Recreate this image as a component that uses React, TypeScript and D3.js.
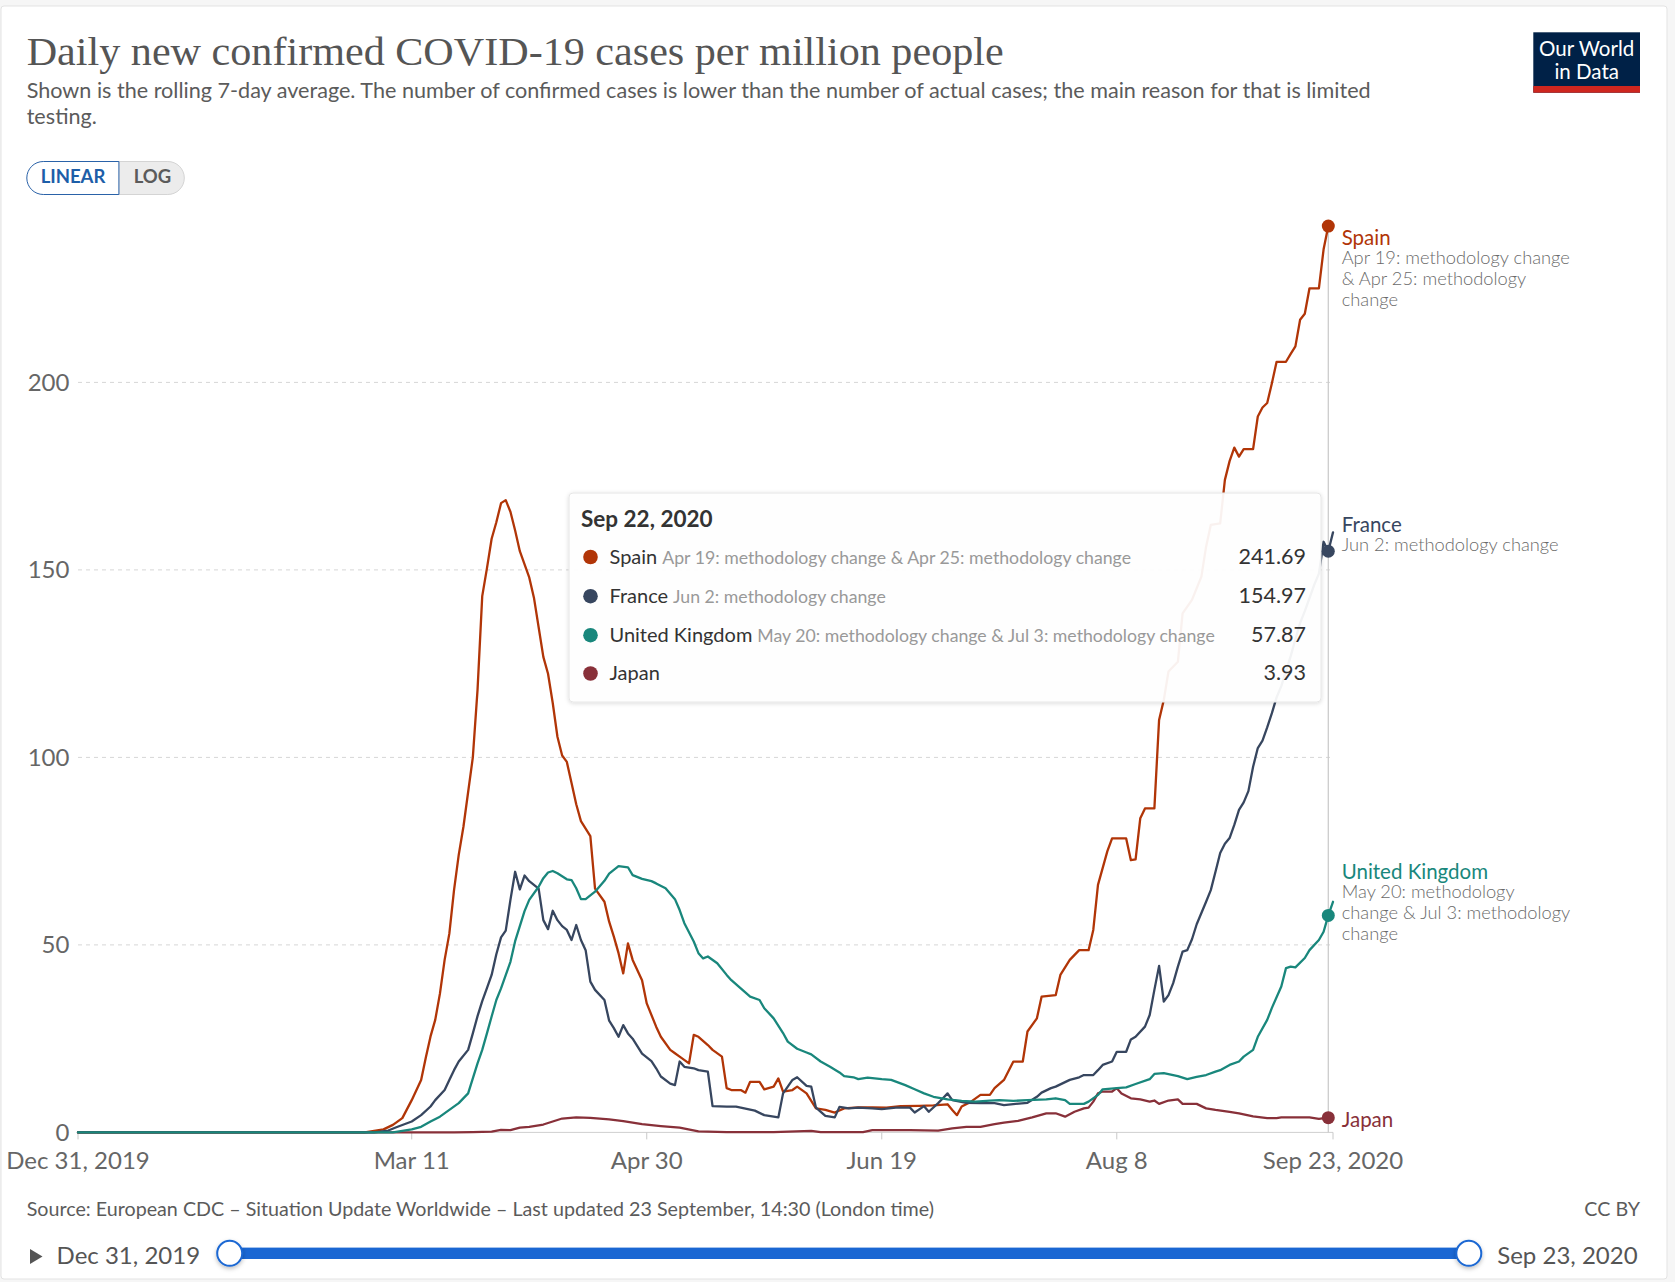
import React from "react";
import * as d3 from "d3";

// ---------- DATA ----------
const START_DATE = "2019-12-31";
const END_DATE = "2020-09-23";
const HOVER_DATE = "2020-09-22";

const spain: [string, number][] = [
  ["2019-12-31", 0], ["2020-03-01", 0], ["2020-03-02", 0.2], ["2020-03-05", 0.8], ["2020-03-07", 2.0],
  ["2020-03-09", 3.8], ["2020-03-11", 8.6], ["2020-03-13", 14], ["2020-03-14", 20], ["2020-03-15", 25.6],
  ["2020-03-16", 30], ["2020-03-17", 37], ["2020-03-18", 46], ["2020-03-19", 53], ["2020-03-20", 64.6],
  ["2020-03-21", 74], ["2020-03-22", 81.5], ["2020-03-24", 100], ["2020-03-25", 118], ["2020-03-26", 143],
  ["2020-03-27", 150.4], ["2020-03-28", 158.3], ["2020-03-29", 162.7], ["2020-03-30", 167.8], ["2020-03-31", 168.6],
  ["2020-04-01", 165.5], ["2020-04-02", 160.5], ["2020-04-03", 155], ["2020-04-05", 148], ["2020-04-06", 142.6],
  ["2020-04-07", 134.7], ["2020-04-08", 126.8], ["2020-04-09", 122.3], ["2020-04-10", 114.5], ["2020-04-11", 105.5],
  ["2020-04-12", 100.5], ["2020-04-13", 98.8], ["2020-04-14", 93.2], ["2020-04-15", 87.5], ["2020-04-16", 83],
  ["2020-04-18", 79], ["2020-04-19", 65], ["2020-04-21", 61.5], ["2020-04-22", 56.2], ["2020-04-23", 52.2],
  ["2020-04-24", 47.8], ["2020-04-25", 42.4], ["2020-04-26", 50.4], ["2020-04-27", 46], ["2020-04-29", 40.6],
  ["2020-04-30", 34.4], ["2020-05-02", 28.2], ["2020-05-03", 25.5], ["2020-05-05", 22], ["2020-05-06", 21.1],
  ["2020-05-07", 20.2], ["2020-05-09", 18.4], ["2020-05-10", 26], ["2020-05-11", 25.5], ["2020-05-13", 23.3],
  ["2020-05-14", 22], ["2020-05-16", 20.2], ["2020-05-17", 11.8], ["2020-05-18", 11.3], ["2020-05-20", 11.3],
  ["2020-05-21", 10.6], ["2020-05-22", 13.5], ["2020-05-24", 13.5], ["2020-05-25", 11.5], ["2020-05-27", 12.2],
  ["2020-05-28", 14.4], ["2020-05-29", 10.9], ["2020-05-31", 11.3], ["2020-06-01", 12.2], ["2020-06-03", 10.4],
  ["2020-06-05", 6.4], ["2020-06-07", 6], ["2020-06-09", 5.3], ["2020-06-11", 6.4], ["2020-06-14", 6.7],
  ["2020-06-17", 6.7], ["2020-06-20", 6.6], ["2020-06-23", 7], ["2020-06-27", 7.1], ["2020-06-30", 7.2],
  ["2020-07-03", 7.5], ["2020-07-04", 6], ["2020-07-05", 4.6], ["2020-07-06", 6.9], ["2020-07-08", 8.2],
  ["2020-07-10", 10], ["2020-07-12", 10], ["2020-07-13", 11.8], ["2020-07-15", 14], ["2020-07-17", 18.9],
  ["2020-07-19", 18.9], ["2020-07-20", 26.9], ["2020-07-22", 30.4], ["2020-07-23", 36.2], ["2020-07-26", 36.6],
  ["2020-07-27", 42], ["2020-07-29", 46], ["2020-07-31", 48.6], ["2020-08-02", 48.6], ["2020-08-03", 54],
  ["2020-08-04", 66], ["2020-08-06", 75], ["2020-08-07", 78.4], ["2020-08-10", 78.4], ["2020-08-11", 72.6],
  ["2020-08-12", 72.8], ["2020-08-13", 83.8], ["2020-08-14", 86.4], ["2020-08-16", 86.4], ["2020-08-17", 110],
  ["2020-08-18", 115.3], ["2020-08-19", 122.9], ["2020-08-21", 125.5], ["2020-08-22", 138.4], ["2020-08-24", 142],
  ["2020-08-26", 148.2], ["2020-08-27", 156.2], ["2020-08-28", 162], ["2020-08-30", 162.4], ["2020-08-31", 174],
  ["2020-09-01", 179], ["2020-09-02", 182.6], ["2020-09-03", 180.2], ["2020-09-04", 182.2], ["2020-09-06", 182.2],
  ["2020-09-07", 190.9], ["2020-09-08", 193.3], ["2020-09-09", 194.5], ["2020-09-10", 199.8], ["2020-09-11", 205.5],
  ["2020-09-13", 205.5], ["2020-09-14", 207.6], ["2020-09-15", 209.6], ["2020-09-16", 216.7], ["2020-09-17", 218.3],
  ["2020-09-18", 225.1], ["2020-09-20", 225.1], ["2020-09-21", 235.5], ["2020-09-22", 241.69],
];

const france: [string, number][] = [
  ["2019-12-31", 0], ["2020-03-03", 0], ["2020-03-06", 0.5], ["2020-03-08", 1.5], ["2020-03-11", 2.9],
  ["2020-03-13", 4.6], ["2020-03-15", 6.9], ["2020-03-16", 8.6], ["2020-03-18", 11.3], ["2020-03-19", 14],
  ["2020-03-20", 16.6], ["2020-03-21", 18.9], ["2020-03-23", 22], ["2020-03-24", 26.4], ["2020-03-25", 31],
  ["2020-03-26", 35], ["2020-03-27", 38.5], ["2020-03-28", 42], ["2020-03-29", 47.5], ["2020-03-30", 52],
  ["2020-03-31", 53.8], ["2020-04-01", 62], ["2020-04-02", 69.5], ["2020-04-03", 64.8], ["2020-04-04", 68.5],
  ["2020-04-05", 67], ["2020-04-07", 65], ["2020-04-08", 56.6], ["2020-04-09", 54.2], ["2020-04-10", 59.1],
  ["2020-04-11", 56.6], ["2020-04-12", 55], ["2020-04-13", 54], ["2020-04-14", 51.3], ["2020-04-15", 55.3],
  ["2020-04-16", 51.3], ["2020-04-17", 48.6], ["2020-04-18", 40.2], ["2020-04-19", 38], ["2020-04-21", 35.3],
  ["2020-04-22", 29.8], ["2020-04-23", 27.8], ["2020-04-24", 25.5], ["2020-04-25", 28.6], ["2020-04-26", 26.4],
  ["2020-04-27", 25], ["2020-04-29", 21], ["2020-05-01", 19], ["2020-05-02", 17.1], ["2020-05-03", 14.9],
  ["2020-05-05", 13], ["2020-05-06", 12.6], ["2020-05-07", 18.9], ["2020-05-08", 17.5], ["2020-05-10", 17.1],
  ["2020-05-11", 16.6], ["2020-05-13", 16.2], ["2020-05-14", 7], ["2020-05-17", 6.9], ["2020-05-19", 6.9],
  ["2020-05-23", 5.8], ["2020-05-25", 4.6], ["2020-05-28", 4], ["2020-05-29", 10.4], ["2020-05-31", 14],
  ["2020-06-01", 14.7], ["2020-06-03", 12.4], ["2020-06-04", 12.2], ["2020-06-05", 6.6], ["2020-06-07", 4.4],
  ["2020-06-09", 4], ["2020-06-10", 6.8], ["2020-06-12", 6.4], ["2020-06-14", 6.6], ["2020-06-17", 6.4],
  ["2020-06-19", 6.2], ["2020-06-22", 6.6], ["2020-06-25", 6.6], ["2020-06-26", 5.3], ["2020-06-28", 7],
  ["2020-06-29", 5.5], ["2020-07-01", 7.8], ["2020-07-02", 9.1], ["2020-07-03", 10.4], ["2020-07-04", 8.6],
  ["2020-07-07", 7.9], ["2020-07-10", 7.8], ["2020-07-13", 7.8], ["2020-07-15", 7.3], ["2020-07-20", 7.9],
  ["2020-07-22", 9.5], ["2020-07-23", 10.6], ["2020-07-25", 11.8], ["2020-07-26", 12.2], ["2020-07-29", 14],
  ["2020-07-31", 14.7], ["2020-08-01", 15.3], ["2020-08-03", 15.3], ["2020-08-04", 16.6], ["2020-08-05", 18],
  ["2020-08-07", 18.9], ["2020-08-08", 21.5], ["2020-08-10", 21.5], ["2020-08-11", 24.8], ["2020-08-12", 25.5],
  ["2020-08-14", 28.2], ["2020-08-15", 31.3], ["2020-08-16", 38], ["2020-08-17", 44.4], ["2020-08-18", 34.9],
  ["2020-08-19", 36.6], ["2020-08-20", 39.8], ["2020-08-21", 44.2], ["2020-08-22", 48.2], ["2020-08-23", 48.6],
  ["2020-08-24", 51.5], ["2020-08-25", 55.5], ["2020-08-26", 58.5], ["2020-08-27", 61.5], ["2020-08-28", 64.6],
  ["2020-08-29", 69.5], ["2020-08-30", 74.5], ["2020-08-31", 77], ["2020-09-01", 78.5], ["2020-09-02", 82],
  ["2020-09-03", 86], ["2020-09-04", 88], ["2020-09-05", 91], ["2020-09-06", 97.5], ["2020-09-07", 102.5],
  ["2020-09-08", 104.5], ["2020-09-09", 108], ["2020-09-10", 111.8], ["2020-09-11", 116], ["2020-09-12", 119],
  ["2020-09-13", 123], ["2020-09-14", 127], ["2020-09-15", 131.5], ["2020-09-16", 135.8], ["2020-09-17", 139],
  ["2020-09-18", 142.5], ["2020-09-19", 146], ["2020-09-20", 149], ["2020-09-21", 157.5], ["2020-09-22", 154.97],
  ["2020-09-23", 160],
];

const unitedKingdom: [string, number][] = [
  ["2019-12-31", 0], ["2020-03-07", 0], ["2020-03-08", 0.2], ["2020-03-11", 0.8], ["2020-03-13", 1.5],
  ["2020-03-15", 2.9], ["2020-03-17", 4.2], ["2020-03-19", 6], ["2020-03-21", 7.8], ["2020-03-23", 10.4],
  ["2020-03-24", 14.4], ["2020-03-25", 18.4], ["2020-03-26", 22], ["2020-03-27", 26.4], ["2020-03-28", 30.9],
  ["2020-03-29", 35.3], ["2020-03-30", 38.4], ["2020-04-01", 45.5], ["2020-04-02", 51], ["2020-04-03", 55],
  ["2020-04-04", 59], ["2020-04-05", 62], ["2020-04-07", 65.5], ["2020-04-08", 67.8], ["2020-04-09", 69.3],
  ["2020-04-10", 69.7], ["2020-04-11", 69.1], ["2020-04-13", 67.5], ["2020-04-14", 67.3], ["2020-04-15", 65.1],
  ["2020-04-16", 62.2], ["2020-04-17", 62.2], ["2020-04-19", 64.2], ["2020-04-21", 67.1], ["2020-04-22", 69],
  ["2020-04-24", 71], ["2020-04-26", 70.7], ["2020-04-27", 68.6], ["2020-04-29", 67.6], ["2020-05-01", 67],
  ["2020-05-02", 66.4], ["2020-05-04", 65.1], ["2020-05-06", 62.2], ["2020-05-07", 59.3], ["2020-05-08", 55.8],
  ["2020-05-10", 50.9], ["2020-05-11", 47.8], ["2020-05-12", 46.4], ["2020-05-13", 46.9], ["2020-05-15", 45.1],
  ["2020-05-17", 42], ["2020-05-18", 40.6], ["2020-05-20", 38.4], ["2020-05-22", 36.2], ["2020-05-24", 35.3],
  ["2020-05-25", 33.1], ["2020-05-27", 30.4], ["2020-05-29", 26.5], ["2020-05-30", 24.2], ["2020-06-01", 22.3],
  ["2020-06-03", 21.3], ["2020-06-04", 20.8], ["2020-06-06", 18.9], ["2020-06-08", 17.5], ["2020-06-10", 16],
  ["2020-06-11", 15], ["2020-06-13", 14.7], ["2020-06-14", 14.2], ["2020-06-16", 14.6], ["2020-06-19", 14.2],
  ["2020-06-21", 14], ["2020-06-24", 12.6], ["2020-06-26", 11.5], ["2020-06-28", 10.4], ["2020-06-30", 9.5],
  ["2020-07-03", 8.8], ["2020-07-06", 8.4], ["2020-07-09", 8.2], ["2020-07-12", 8.5], ["2020-07-14", 8.6],
  ["2020-07-17", 8.4], ["2020-07-20", 8.6], ["2020-07-24", 8.8], ["2020-07-26", 9.1], ["2020-07-28", 8.6],
  ["2020-07-29", 7.6], ["2020-08-01", 7.6], ["2020-08-02", 8.2], ["2020-08-04", 10], ["2020-08-05", 11.5],
  ["2020-08-08", 11.8], ["2020-08-10", 12], ["2020-08-12", 12.9], ["2020-08-15", 14.2], ["2020-08-16", 15.6],
  ["2020-08-18", 15.8], ["2020-08-21", 15], ["2020-08-23", 14.2], ["2020-08-25", 14.8], ["2020-08-27", 15.3],
  ["2020-08-29", 16.2], ["2020-08-30", 16.6], ["2020-09-01", 18], ["2020-09-03", 18.9], ["2020-09-04", 20.2],
  ["2020-09-06", 22], ["2020-09-07", 25.5], ["2020-09-09", 30], ["2020-09-10", 33.2], ["2020-09-12", 38.9],
  ["2020-09-13", 43.8], ["2020-09-14", 44.2], ["2020-09-15", 44], ["2020-09-17", 46.5], ["2020-09-18", 48.6],
  ["2020-09-20", 51.3], ["2020-09-21", 53.5], ["2020-09-22", 57.87], ["2020-09-23", 61.5],
];

const japan: [string, number][] = [
  ["2019-12-31", 0], ["2020-03-20", 0], ["2020-03-24", 0.1], ["2020-03-28", 0.2], ["2020-03-30", 0.7],
  ["2020-04-01", 0.6], ["2020-04-03", 1.3], ["2020-04-05", 1.5], ["2020-04-08", 2.1], ["2020-04-10", 2.9],
  ["2020-04-12", 3.7], ["2020-04-15", 4], ["2020-04-18", 3.9], ["2020-04-22", 3.5], ["2020-04-25", 3],
  ["2020-04-29", 2.2], ["2020-05-03", 1.7], ["2020-05-07", 1.3], ["2020-05-11", 0.3], ["2020-05-17", 0.1],
  ["2020-05-27", 0.1], ["2020-06-04", 0.4], ["2020-06-06", 0.1], ["2020-06-15", 0.1], ["2020-06-17", 0.6],
  ["2020-06-25", 0.6], ["2020-07-01", 0.5], ["2020-07-04", 1.1], ["2020-07-07", 1.5], ["2020-07-10", 1.5],
  ["2020-07-13", 2.2], ["2020-07-15", 2.6], ["2020-07-18", 3.1], ["2020-07-21", 4], ["2020-07-24", 5.1],
  ["2020-07-26", 5.1], ["2020-07-28", 4.2], ["2020-07-30", 5.5], ["2020-08-01", 6.4], ["2020-08-02", 6.6],
  ["2020-08-03", 8.2], ["2020-08-04", 10.4], ["2020-08-05", 10.9], ["2020-08-07", 10.9], ["2020-08-08", 11.8],
  ["2020-08-09", 10.4], ["2020-08-11", 9.1], ["2020-08-13", 8.8], ["2020-08-15", 8.2], ["2020-08-16", 8.5],
  ["2020-08-17", 7.6], ["2020-08-19", 8.5], ["2020-08-21", 8.8], ["2020-08-22", 7.6], ["2020-08-25", 7.6],
  ["2020-08-27", 6.4], ["2020-08-29", 6], ["2020-09-01", 5.5], ["2020-09-03", 5.1], ["2020-09-06", 4.3],
  ["2020-09-09", 3.8], ["2020-09-11", 3.8], ["2020-09-12", 4], ["2020-09-15", 4], ["2020-09-18", 4],
  ["2020-09-20", 3.6], ["2020-09-22", 3.93], ["2020-09-23", 3.9],
];

const seriesNames = ["Spain", "France", "United Kingdom", "Japan"];
const seriesData = [spain, france, unitedKingdom, japan];
const seriesNotes = [
  "Apr 19: methodology change & Apr 25: methodology change",
  "Jun 2: methodology change",
  "May 20: methodology change & Jul 3: methodology change",
  "",
];
const labelNoteLines = [
  ["Apr 19: methodology change", "& Apr 25: methodology", "change"],
  ["Jun 2: methodology change"],
  ["May 20: methodology", "change & Jul 3: methodology", "change"],
  [],
];
const yTicks = [0, 50, 100, 150, 200];
const xTickDates = ["2019-12-31", "2020-03-11", "2020-04-30", "2020-06-19", "2020-08-08", "2020-09-23"];
const xTickLabels = ["Dec 31, 2019", "Mar 11", "Apr 30", "Jun 19", "Aug 8", "Sep 23, 2020"];

const titleText = "Daily new confirmed COVID-19 cases per million people";
const subtitleLines = [
  "Shown is the rolling 7-day average. The number of confirmed cases is lower than the number of actual cases; the main reason for that is limited",
  "testing.",
];
const sourceText = "Source: European CDC – Situation Update Worldwide – Last updated 23 September, 14:30 (London time)";
const tooltipTitle = "Sep 22, 2020";

// ---------- STYLE / LAYOUT ----------
const W = 1675;
const H = 1282;
const colors = ["#B13507", "#37465F", "#19877C", "#883039"];
const drawOrder = [3, 0, 1, 2];
const labelNameBaseline = [245, 532, 879, 1127];
const FONT = "Lato, 'Open Sans', sans-serif";

const parse = d3.utcParse("%Y-%m-%d");
const x = d3.scaleUtc().domain([parse(START_DATE)!, parse(END_DATE)!]).range([78, 1333]);
const y = d3.scaleLinear().domain([0, 200]).range([1132.4, 382.4]);

export default function App() {
  const line = d3
    .line<[string, number]>()
    .x((d) => x(parse(d[0])!))
    .y((d) => y(d[1]));

  const hoverDate = parse(HOVER_DATE)!;
  const hx = x(hoverDate);
  const hoverValues = seriesData.map((s) => {
    const p = s.find((d) => d[0] === HOVER_DATE);
    return p ? p[1] : 0;
  });
  const fmt = d3.format(".2f");

  const tipX = 569;
  const tipY = 493;
  const tipW = 752;
  const tipH = 209;
  const rowBase = [563.5, 602.7, 641.7, 680];

  return (
    <svg
      width={W}
      height={H}
      style={{ position: "absolute", left: 0, top: 0, display: "block" }}
      fontFamily={FONT}
    >
      <defs>
        <filter id="tipShadow" x="-5%" y="-10%" width="110%" height="125%">
          <feDropShadow dx="0" dy="1" stdDeviation="2" floodColor="#000" floodOpacity="0.15" />
        </filter>
        <filter id="knobShadow" x="-50%" y="-50%" width="200%" height="200%">
          <feDropShadow dx="0" dy="2" stdDeviation="2" floodColor="#000" floodOpacity="0.25" />
        </filter>
      </defs>

      {/* page + card */}
      <rect x={0} y={0} width={W} height={H} fill="#f6f6f6" />
      <rect x={1} y={6} width={1666} height={1273} rx={3} fill="#ffffff" stroke="#e3e3e3" />

      {/* title */}
      <text
        x={26.7}
        y={65}
        fontFamily="'Liberation Serif', 'DejaVu Serif', serif"
        fontSize={39}
        fill="#555"
        textLength={977}
        lengthAdjust="spacingAndGlyphs"
      >
        {titleText}
      </text>
      {subtitleLines.map((t, i) => (
        <text key={i} x={26.7} y={98.3 + i * 25.7} fontSize={21.6} fill="#5b5b5b">
          {t}
        </text>
      ))}

      {/* LINEAR / LOG toggle */}
      <path d="M118.9,161.5 H167.8 A16.5,16.5 0 0 1 167.8,194.5 H118.9 Z" fill="#ececec" stroke="#d4d4d4" />
      <path d="M118.9,161.5 H43.3 A16.5,16.5 0 0 0 43.3,194.5 H118.9 Z" fill="#ffffff" stroke="#2a62a8" />
      <text x={73} y={183.3} fontSize={18.5} fontWeight={700} fill="#1d5ea8" textAnchor="middle">
        LINEAR
      </text>
      <text x={152.5} y={183.3} fontSize={18.5} fontWeight={700} fill="#5b5b5b" textAnchor="middle">
        LOG
      </text>

      {/* logo */}
      <rect x={1533.3} y={32.3} width={106.7} height={60.4} fill="#002147" />
      <rect x={1533.3} y={86} width={106.7} height={6.7} fill="#CE261E" />
      <text x={1586.7} y={55.5} fontSize={20.5} fill="#fff" textAnchor="middle">
        Our World
      </text>
      <text x={1586.7} y={79} fontSize={20.5} fill="#fff" textAnchor="middle">
        in Data
      </text>

      {/* grid */}
      {yTicks.map((t) => (
        <g key={t}>
          {t !== 0 && (
            <line
              x1={x.range()[0]}
              x2={x.range()[1]}
              y1={y(t)}
              y2={y(t)}
              stroke="#d6d6d6"
              strokeDasharray="4,4"
            />
          )}
          <text x={69.4} y={y(t) + 8.5} fontSize={24} fill="#666" textAnchor="end">
            {t}
          </text>
        </g>
      ))}
      <line x1={x.range()[0]} x2={x.range()[1]} y1={y(0)} y2={y(0)} stroke="#cfcfcf" />
      {xTickDates.map((d, i) => {
        const px = x(parse(d)!);
        return (
          <g key={d}>
            <line x1={px} x2={px} y1={y(0)} y2={y(0) + 7} stroke="#c8c8c8" />
            <text x={px} y={1168.5} fontSize={24} fill="#666" textAnchor="middle">
              {xTickLabels[i]}
            </text>
          </g>
        );
      })}

      {/* hover line */}
      <line x1={hx} x2={hx} y1={y(hoverValues[0])} y2={y(0)} stroke="#cccccc" strokeWidth={1.3} />

      {/* series lines */}
      {drawOrder.map((i) => (
        <path
          key={seriesNames[i]}
          d={line(seriesData[i]) || ""}
          fill="none"
          stroke={colors[i]}
          strokeWidth={2.3}
          strokeLinejoin="round"
          strokeLinecap="round"
        />
      ))}

      {/* tooltip */}
      <g>
        <rect
          x={tipX}
          y={tipY}
          width={tipW}
          height={tipH}
          rx={4}
          fill="#ffffff"
          fillOpacity={0.93}
          stroke="#e6e6e6"
          filter="url(#tipShadow)"
        />
        <text x={581} y={526.7} fontSize={22.5} fontWeight={700} fill="#333">
          {tooltipTitle}
        </text>
        {seriesNames.map((n, i) => (
          <g key={n}>
            <circle cx={590.5} cy={rowBase[i] - 6.5} r={7.3} fill={colors[i]} />
            <text x={609.5} y={rowBase[i]} fontSize={20} fill="#333">
              <tspan>{n}</tspan>
              {seriesNotes[i] && (
                <tspan dx={5} fontSize={17.7} fill="#999">
                  {seriesNotes[i]}
                </tspan>
              )}
            </text>
            <text x={1306} y={rowBase[i]} fontSize={21.5} fill="#333" textAnchor="end">
              {fmt(hoverValues[i])}
            </text>
          </g>
        ))}
      </g>

      {/* markers */}
      {seriesNames.map((n, i) => (
        <circle key={n} cx={hx} cy={y(hoverValues[i])} r={6.5} fill={colors[i]} />
      ))}

      {/* end labels */}
      {seriesNames.map((n, i) => (
        <g key={n}>
          <text x={1341.7} y={labelNameBaseline[i]} fontSize={20.5} fill={colors[i]}>
            {n}
          </text>
          {labelNoteLines[i].map((t, j) => (
            <text
              key={j}
              x={1341.7}
              y={labelNameBaseline[i] + 19 + j * 20.8}
              fontSize={18.3}
              fontWeight={300}
              fill="#6a6a6a"
            >
              {t}
            </text>
          ))}
        </g>
      ))}

      {/* footer */}
      <text x={26.7} y={1215.5} fontSize={19.7} fill="#5b5b5b">
        {sourceText}
      </text>
      <text x={1640} y={1215.5} fontSize={19.7} fill="#5b5b5b" textAnchor="end">
        CC BY
      </text>

      {/* timeline */}
      <path d="M30,1249 L42.5,1256.5 L30,1264 Z" fill="#555" />
      <text x={56.6} y={1263.5} fontSize={24} fill="#555">
        Dec 31, 2019
      </text>
      <rect x={229.7} y={1247.6} width={1468.8 - 229.7} height={11.4} fill="#1a67d3" />
      <circle cx={229.7} cy={1253.3} r={12.5} fill="#fff" stroke="#1a67d3" strokeWidth={2} filter="url(#knobShadow)" />
      <circle cx={1468.8} cy={1253.3} r={12.5} fill="#fff" stroke="#1a67d3" strokeWidth={2} filter="url(#knobShadow)" />
      <text x={1637.6} y={1263.5} fontSize={24} fill="#555" textAnchor="end">
        Sep 23, 2020
      </text>
    </svg>
  );
}
